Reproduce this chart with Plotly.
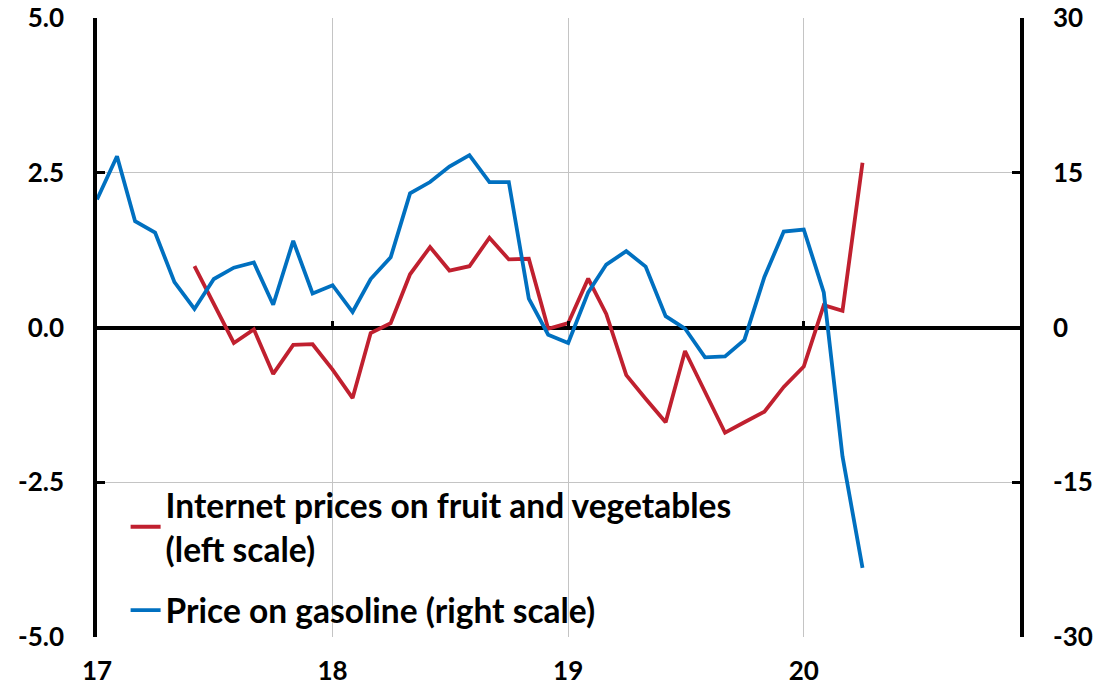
import plotly.graph_objects as go

# monthly, Jan 2017 .. Apr 2020
months = [f"{y}-{m:02d}-01" for y in range(2017, 2021) for m in range(1, 13)][:40]

gasoline = [12.4, 16.6, 10.3, 9.2, 4.4, 1.8, 4.7, 5.8, 6.3, 2.2, 8.4, 3.3,
            4.1, 1.5, 4.7, 6.8, 13.0, 14.1, 15.6, 16.7, 14.1, 14.1, 2.8, -0.7,
            -1.5, 3.4, 6.1, 7.4, 5.9, 1.1, -0.1, -2.9, -2.8, -1.2, 4.9, 9.3,
            9.5, 3.4, -12.5, -23.3]

fruit_veg = [None, None, None, None, None, 0.99, 0.38, -0.25, -0.03, -0.75, -0.28, -0.27,
             -0.68, -1.14, -0.09, 0.07, 0.86, 1.30, 0.92, 0.99, 1.45, 1.10, 1.11, -0.02,
             0.07, 0.79, 0.22, -0.77, -1.15, -1.53, -0.38, -1.04, -1.70, -1.53, -1.36, -0.96,
             -0.63, 0.36, 0.27, 2.66]

year_ticks = ["2017-01-01", "2018-01-01", "2019-01-01", "2020-01-01"]
year_labels = ["17", "18", "19", "20"]
left_ticks = [-5, -2.5, 0, 2.5, 5]
left_labels = ["-5.0", "-2.5", "0.0", "2.5", "5.0"]
right_ticks = [-30, -15, 0, 15, 30]
right_labels = ["-30", "-15", "0", "15", "30"]

RED = "#C0202F"
BLUE = "#0070C0"
FONT = "Lato"

fig = go.Figure()

fig.add_trace(go.Scatter(
    x=months, y=fruit_veg, mode="lines", legendgroup="fv",
    line=dict(color=RED, width=3.8),
    name="Internet prices on fruit and vegetables<br>(left scale)",
))
fig.add_trace(go.Scatter(
    x=months, y=gasoline, mode="lines", yaxis="y2", legendgroup="gas",
    line=dict(color=BLUE, width=3.8),
    name="Price on gasoline (right scale)",
))
# carrier for the tick marks sitting on the zero line
fig.add_trace(go.Scatter(
    x=months, y=fruit_veg, mode="lines", xaxis="x2",
    line=dict(color="rgba(0,0,0,0)", width=0),
    showlegend=False, hoverinfo="skip",
))

tickfont = dict(family=FONT, size=26, weight="bold")

fig.update_layout(
    width=1112, height=692,
    margin=dict(l=97, r=92, t=18, b=55),
    paper_bgcolor="white", plot_bgcolor="white",
    font=dict(family=FONT, color="black", size=24),
    showlegend=True,
    legend=dict(
        x=0.031, y=0.259, xanchor="left", yanchor="top",
        bgcolor="rgba(255,255,255,0)",
        font=dict(family=FONT, size=33.5, color="black", weight="bold"),
        itemwidth=30, tracegroupgap=15,
    ),
    xaxis=dict(
        type="date", range=["2017-01-01", "2020-12-01"],
        tickvals=year_ticks, ticktext=year_labels,
        showgrid=True, gridcolor="#c4c4c4", gridwidth=1,
        showline=False,
        ticks="", ticklabelstandoff=16, automargin=False,
        tickfont=tickfont, zeroline=False,
    ),
    xaxis2=dict(
        type="date", range=["2017-01-01", "2020-12-01"],
        overlaying="x", anchor="free", position=0.5, side="top",
        tickvals=year_ticks[1:], ticks="outside", ticklen=7, tickwidth=3,
        tickcolor="black", showticklabels=False, showgrid=False,
        showline=False, zeroline=False, automargin=False,
    ),
    yaxis=dict(
        range=[-5, 5], tickvals=left_ticks, ticktext=left_labels,
        showgrid=True, gridcolor="#c4c4c4", gridwidth=1,
        zeroline=True, zerolinecolor="black", zerolinewidth=3.5,
        showline=True, linecolor="black", linewidth=3.5,
        ticks="inside", ticklen=8, tickwidth=3, tickcolor="black",
        ticklabelstandoff=24, automargin=False, ticklabeloverflow="allow",
        tickfont=tickfont,
    ),
    yaxis2=dict(
        range=[-30, 30], tickvals=right_ticks, ticktext=right_labels,
        overlaying="y", side="right", showgrid=False, zeroline=False,
        showline=True, linecolor="black", linewidth=3.5,
        ticks="inside", ticklen=8, tickwidth=3, tickcolor="black",
        ticklabelstandoff=24, automargin=False, ticklabeloverflow="allow",
        tickfont=tickfont,
    ),
)

# drop the page's default body margin so the figure sits at the window's corner
fig.write_html("out.html", config={"displayModeBar": False},
               post_script="document.body.style.margin='0';")
